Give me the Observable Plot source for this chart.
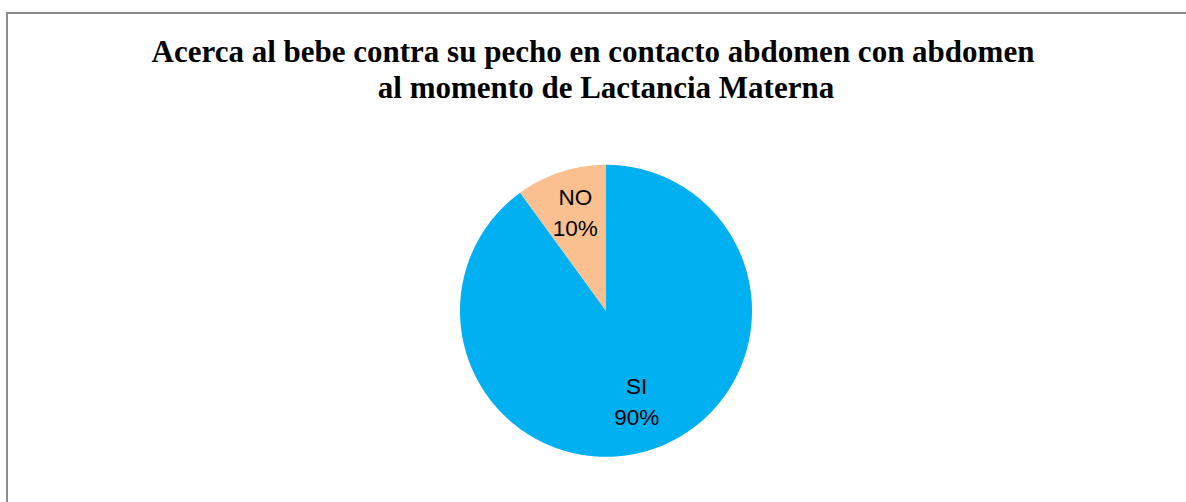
<!DOCTYPE html>
<html>
<head>
<meta charset="utf-8">
<script src="https://cdn.jsdelivr.net/npm/d3@7"></script>
<script src="https://cdn.jsdelivr.net/npm/@observablehq/plot@0.6"></script>
<style>
  html, body { margin: 0; padding: 0; background: #fff; }
  #wrap { position: relative; width: 1186px; height: 502px; overflow: hidden; background: #fff; }
  #frame { position: absolute; left: 6px; top: 12px; width: 1200px; height: 600px;
           border-left: 2px solid #8c8c8c; border-top: 2px solid #8c8c8c; box-sizing: border-box; }
  #title { position: absolute; left: 0; top: 33.5px; width: 1186px; text-align: center;
           font-family: "Liberation Serif", "Times New Roman", serif; font-weight: bold;
           font-size: 31px; line-height: 36px; color: #000; }
  #title div { position: relative; white-space: nowrap; }
  #chart { position: absolute; left: 0; top: 120px; }
</style>
</head>
<body>
<div id="wrap">
  <div id="frame"></div>
  <div id="title">
    <div style="left:0px">Acerca al bebe contra su pecho en contacto abdomen con abdomen</div>
    <div style="left:13px">al momento de Lactancia Materna</div>
  </div>
  <div id="chart"></div>
</div>
<script>
// Data
const categories = ["SI", "NO"];
const percents = [90, 10];
const sliceColors = ["#00B0F0", "#FAC090"];

// Slice geometry in unit-circle data space (clockwise from 12 o'clock)
const arcs = d3.pie().sort(null).value(d => d)(percents);
const polys = [];
const labelPts = [];
arcs.forEach((a, i) => {
  const cat = categories[i];
  polys.push({cat, x: 0, y: 0});
  const steps = Math.max(2, Math.ceil((a.endAngle - a.startAngle) / (Math.PI / 360)));
  for (let k = 0; k <= steps; k++) {
    const t = a.startAngle + (a.endAngle - a.startAngle) * k / steps;
    polys.push({cat, x: Math.sin(t), y: Math.cos(t)});
  }
  polys.push({cat, x: 0, y: 0});
  const mid = (a.startAngle + a.endAngle) / 2;
  const r = 0.68;
  labelPts.push({cat, x: r * Math.sin(mid), y: r * Math.cos(mid), text: cat + "\n" + percents[i] + "%"});
});

const plot = Plot.plot({
  width: 1186,
  height: 382,
  margin: 0,
  x: {domain: [-1, 1], range: [459.5, 751.5], axis: null},
  y: {domain: [-1, 1], range: [336.3, 44.3], axis: null},
  color: {domain: categories, range: sliceColors},
  style: {background: "transparent"},
  marks: [
    Plot.line(polys, {x: "x", y: "y", z: "cat", fill: "cat", stroke: "none", curve: "linear"}),
    Plot.text(labelPts, {
      x: "x", y: "y", text: "text",
      dy: -6,
      fontSize: 22.5, lineHeight: 1.38,
      fontFamily: "Liberation Sans, Arial, sans-serif",
      fill: "#000"
    })
  ]
});
document.getElementById("chart").appendChild(plot);
</script>
</body>
</html>
